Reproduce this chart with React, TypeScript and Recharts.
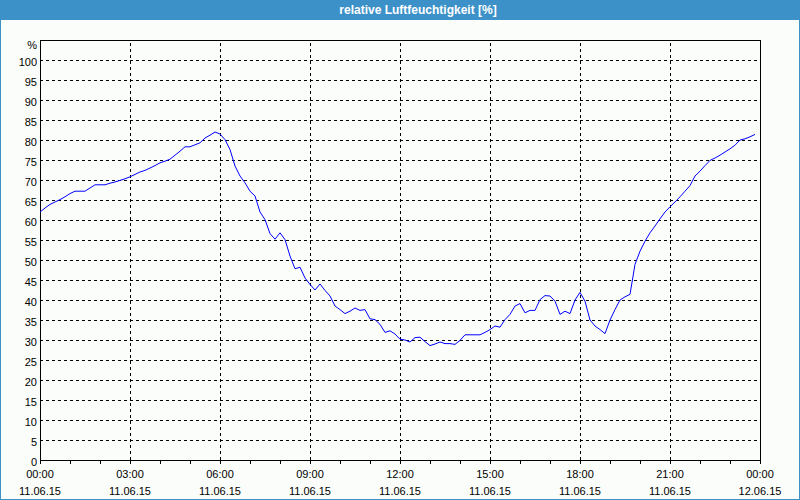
import React from 'react';
import { LineChart, Line, XAxis, YAxis, ReferenceLine, ReferenceArea } from 'recharts';

// relative humidity, one reading every 10 minutes from 11.06.15 00:00
const humidity: number[] = [
  62.0, 63.0, 63.9, 64.5, 65.1, 65.8, 66.6, 67.2, 67.2, 67.2,
  68.0, 68.8, 68.8, 68.8, 69.2, 69.5, 69.9, 70.3, 70.8, 71.4,
  72.0, 72.4, 73.0, 73.6, 74.3, 74.7, 75.2, 76.2, 77.2, 78.3,
  78.3, 78.8, 79.3, 80.5, 81.2, 82.0, 81.5, 80.1, 77.6, 73.5,
  71.0, 69.3, 67.2, 66.0, 62.0, 60.1, 56.6, 55.2, 56.8, 55.1,
  51.0, 47.8, 48.2, 45.5, 43.9, 42.5, 44.0, 42.4, 41.0, 38.5,
  37.6, 36.6, 37.2, 38.0, 37.4, 37.6, 35.3, 35.1, 33.9, 31.9,
  32.3, 31.5, 30.2, 30.0, 29.5, 30.6, 30.7, 29.6, 28.6, 29.0,
  29.5, 29.1, 29.1, 28.9, 29.9, 31.3, 31.3, 31.3, 31.3, 31.9,
  32.6, 33.5, 33.2, 35.1, 36.4, 38.5, 39.1, 36.8, 37.4, 37.4,
  40.1, 41.1, 41.0, 39.7, 36.4, 37.2, 36.6, 40.0, 41.9, 39.7,
  35.0, 33.5, 32.6, 31.6, 35.0, 37.6, 40.0, 40.8, 41.4, 48.9,
  52.2, 54.7, 56.8, 58.5, 60.3, 62.0, 63.3, 64.5, 65.8, 67.2,
  68.6, 71.0, 72.2, 73.6, 74.9, 75.5, 76.2, 77.0, 77.8, 78.7,
  80.0, 80.3, 80.8, 81.4,
];

const hourTicks: number[] = [0, 1, 2, 3, 4, 5, 6, 7, 8, 9, 10, 11, 12, 13, 14, 15, 16, 17, 18, 19, 20, 21, 22, 23, 24];
const gridHours: number[] = [3, 6, 9, 12, 15, 18, 21];
const gridValues: number[] = [5, 10, 15, 20, 25, 30, 35, 40, 45, 50, 55, 60, 65, 70, 75, 80, 85, 90, 95, 100];
const timeLabels: string[] = ['00:00', '03:00', '06:00', '09:00', '12:00', '15:00', '18:00', '21:00', '00:00'];
const dateLabels: string[] = ['11.06.15', '11.06.15', '11.06.15', '11.06.15', '11.06.15', '11.06.15', '11.06.15', '11.06.15', '12.06.15'];
const yTicks: number[] = [0, 5, 10, 15, 20, 25, 30, 35, 40, 45, 50, 55, 60, 65, 70, 75, 80, 85, 90, 95, 100, 105];
const yTopLabel = '%';
const title = 'relative Luftfeuchtigkeit [%]';

const data = humidity.map((v, i) => ({ t: i / 6, v }));

const FONT = '"Liberation Sans", Arial, sans-serif';
const BLUE = '#3c91c8';

const XTick = (props: any) => {
  const { x, y, payload } = props;
  const h = payload.value as number;
  const major = h % 3 === 0;
  const idx = h / 3;
  return (
    <g>
      <line x1={x} y1={y} x2={x} y2={y + 4} stroke="#000" shapeRendering="crispEdges" />
      {major && (
        <text x={x} y={y + 18} textAnchor="middle" fontSize={11} fontFamily={FONT} fill="#000">
          {timeLabels[idx]}
        </text>
      )}
      {major && (
        <text x={x} y={y + 34.5} textAnchor="middle" fontSize={11} fontFamily={FONT} fill="#000">
          {dateLabels[idx]}
        </text>
      )}
    </g>
  );
};

const YTick = (props: any) => {
  const { x, y, payload } = props;
  const v = payload.value as number;
  const isTop = v === 105;
  return (
    <text x={x - 3} y={y + (isTop ? 9 : 6)} textAnchor="end" fontSize={11} fontFamily={FONT} fill="#000">
      {isTop ? yTopLabel : String(v)}
    </text>
  );
};

export default function App() {
  return (
    <div style={{ position: 'absolute', left: 0, top: 0, width: 800, height: 500, background: '#fbfdfb', overflow: 'hidden' }}>
      <div
        style={{
          position: 'absolute', left: 0, top: 0, width: 800, height: 20, background: BLUE,
          color: '#fff', fontFamily: FONT, fontWeight: 'bold', fontSize: 12, lineHeight: '20px',
          textAlign: 'center', paddingLeft: 36, boxSizing: 'border-box',
        }}
      >
        {title}
      </div>
      <div style={{ position: 'absolute', left: 0, top: 0 }}>
        <LineChart width={800} height={500} data={data} margin={{ top: 40, right: 40, left: 0, bottom: 0 }}>
          <XAxis
            dataKey="t"
            type="number"
            domain={[0, 24]}
            ticks={hourTicks}
            interval={0}
            height={40}
            tickSize={0}
            tickMargin={0}
            axisLine={false}
            tickLine={false}
            tick={<XTick />}
          />
          <YAxis
            type="number"
            domain={[0, 105]}
            ticks={yTicks}
            interval={0}
            width={40}
            tickSize={0}
            tickMargin={0}
            axisLine={false}
            tickLine={false}
            tick={<YTick />}
          />
          {gridValues.map((v) => (
            <ReferenceLine key={'h' + v} y={v} stroke="#000" strokeDasharray="3 3" shapeRendering="crispEdges" />
          ))}
          {gridHours.map((h) => (
            <ReferenceLine key={'v' + h} x={h} stroke="#000" strokeDasharray="3 3" shapeRendering="crispEdges" />
          ))}
          <ReferenceArea x1={0} x2={24} y1={0} y2={105} fill="none" fillOpacity={0} stroke="#000" strokeWidth={1} strokeOpacity={1} shapeRendering="crispEdges" />
          <Line type="linear" dataKey="v" stroke="#0000ff" strokeWidth={1} dot={false} isAnimationActive={false} />
        </LineChart>
      </div>
      <div
        style={{
          position: 'absolute', left: 0, top: 0, width: 800, height: 500, boxSizing: 'border-box',
          borderLeft: `1px solid ${BLUE}`, borderRight: `1px solid ${BLUE}`, borderBottom: `1px solid ${BLUE}`,
          pointerEvents: 'none',
        }}
      />
    </div>
  );
}
